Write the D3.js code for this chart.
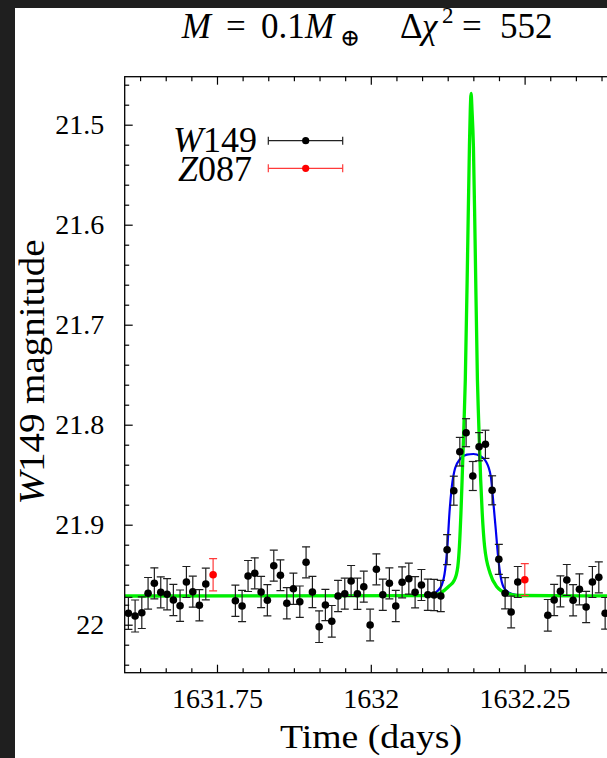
<!DOCTYPE html>
<html>
<head>
<meta charset="utf-8">
<script src="https://cdn.jsdelivr.net/npm/d3@7"></script>
<style>
  html, body { margin: 0; padding: 0; background: #fff; }
  svg { display: block; }
  text { font-family: "Liberation Serif", "DejaVu Serif", serif; fill: #000; }
</style>
</head>
<body>
<svg id="chart" width="607" height="758"></svg>
<script>
// W149 photometry: time (days), magnitude, 1-sigma error
const w149Time = [
  1631.6060, 1631.6169, 1631.6278, 1631.6380, 1631.6482, 1631.6586, 1631.6689, 1631.6791, 1631.6900, 1631.7003,
  1631.7107, 1631.7214, 1631.7318, 1631.7799, 1631.7908, 1631.8005, 1631.8114, 1631.8217, 1631.8319, 1631.8423,
  1631.8531, 1631.8635, 1631.8742, 1631.8846, 1631.8948, 1631.9051, 1631.9160, 1631.9262, 1631.9366, 1631.9468,
  1631.9577, 1631.9680, 1631.9782, 1631.9886, 1631.9989, 1632.0091, 1632.0195, 1632.0302, 1632.0406, 1632.0509,
  1632.0618, 1632.0720, 1632.0823, 1632.0927, 1632.1029, 1632.1138, 1632.1240, 1632.1349, 1632.1447, 1632.1549,
  1632.1658, 1632.1760, 1632.1863, 1632.1972, 1632.2081, 1632.2183, 1632.2281, 1632.2389, 1632.2877, 1632.2980,
  1632.3082, 1632.3186, 1632.3288, 1632.3391, 1632.3500, 1632.3602, 1632.3706, 1632.3809
];
const w149Mag = [
  21.9886, 21.9913, 21.9880, 21.9686, 21.9586, 21.9676, 21.9696, 21.9753, 21.9810, 21.9573,
  21.9670, 21.9806, 21.9593, 21.9760, 21.9813, 21.9513, 21.9486, 21.9673, 21.9756, 21.9410,
  21.9506, 21.9786, 21.9640, 21.9770, 21.9376, 21.9673, 22.0020, 21.9803, 21.9966, 21.9713,
  21.9690, 21.9563, 21.9690, 21.9620, 22.0003, 21.9446, 21.9700, 21.9586, 21.9813, 21.9576,
  21.9540, 21.9676, 21.9603, 21.9700, 21.9703, 21.9713, 21.9250, 21.8660, 21.8270, 21.8080,
  21.8513, 21.8220, 21.8196, 21.8656, 21.9346, 21.9686, 21.9873, 21.9573, 21.9906, 21.9753,
  21.9666, 21.9553, 21.9756, 21.9646, 21.9823, 21.9573, 21.9526, 21.9886
];
const w149Err = [
  0.0160, 0.0160, 0.0158, 0.0158, 0.0155, 0.0155, 0.0156, 0.0157, 0.0157, 0.0155,
  0.0155, 0.0156, 0.0158, 0.0156, 0.0157, 0.0155, 0.0155, 0.0156, 0.0156, 0.0155,
  0.0154, 0.0156, 0.0156, 0.0157, 0.0155, 0.0156, 0.0158, 0.0157, 0.0158, 0.0156,
  0.0155, 0.0155, 0.0156, 0.0155, 0.0158, 0.0155, 0.0156, 0.0155, 0.0157, 0.0155,
  0.0155, 0.0156, 0.0155, 0.0156, 0.0156, 0.0156, 0.0150, 0.0145, 0.0143, 0.0140,
  0.0145, 0.0141, 0.0141, 0.0145, 0.0150, 0.0156, 0.0158, 0.0155, 0.0158, 0.0156,
  0.0155, 0.0155, 0.0156, 0.0155, 0.0157, 0.0155, 0.0155, 0.0158
];

// Z087 photometry
const z087Time = [1631.7437, 1632.2503];
const z087Mag = [21.9500, 21.9550];
const z087Err = [0.0161, 0.0160];

// Model light curves (time, magnitude samples)
const greenModelTime = [
  1631.6000, 1632.1000, 1632.1126, 1632.1261, 1632.1359, 1632.1414, 1632.1440, 1632.1465, 1632.1484, 1632.1502,
  1632.1520, 1632.1536, 1632.1577, 1632.1603, 1632.1617, 1632.1630, 1632.1645, 1632.1668, 1632.1695, 1632.1733,
  1632.1749, 1632.1767, 1632.1786, 1632.1811, 1632.1850, 1632.1939, 1632.2048, 1632.2211, 1632.2427, 1632.4000
];
const greenModelMag = [
  21.9713, 21.9710, 21.9686, 21.9620, 21.9553, 21.9420, 21.9220, 21.8883, 21.8553, 21.8220,
  21.7886, 21.7553, 21.6153, 21.5220, 21.4853, 21.4686, 21.4853, 21.5220, 21.6153, 21.7553,
  21.7886, 21.8220, 21.8553, 21.8883, 21.9220, 21.9486, 21.9620, 21.9686, 21.9708, 21.9713
];
const blueModelTime = [
  1631.6000, 1632.0900, 1632.0992, 1632.1073, 1632.1154, 1632.1208, 1632.1245, 1632.1278, 1632.1317, 1632.1370,
  1632.1452, 1632.1560, 1632.1668, 1632.1777, 1632.1874, 1632.1951, 1632.1993, 1632.2032, 1632.2064, 1632.2102,
  1632.2155, 1632.2237, 1632.2373, 1632.2536, 1632.4000
];
const blueModelMag = [
  21.9713, 21.9712, 21.9703, 21.9670, 21.9603, 21.9453, 21.9220, 21.8886, 21.8620, 21.8436,
  21.8343, 21.8300, 21.8293, 21.8313, 21.8370, 21.8520, 21.8786, 21.9053, 21.9286, 21.9486,
  21.9620, 21.9676, 21.9703, 21.9713, 21.9713
];

// Axis ticks
const xTickValues = [1631.75, 1632, 1632.25];
const xTickLabels = ["1631.75", "1632", "1632.25"];
const yTickValues = [21.5, 21.6, 21.7, 21.8, 21.9, 22];
const yTickLabels = ["21.5", "21.6", "21.7", "21.8", "21.9", "22"];

const W = 607, H = 758;
const plot = { left: 124.7, top: 76.7, right: 616.9, bottom: 672.7 };

const x = d3.scaleLinear().domain([1631.6, 1632.4]).range([plot.left, plot.right]);
const y = d3.scaleLinear().domain([21.452, 22.048]).range([plot.top, plot.bottom]);

const svg = d3.select("#chart");
svg.append("rect").attr("width", W).attr("height", H).attr("fill", "#fff");
// dark page margins
svg.append("rect").attr("x", 0).attr("y", 0).attr("width", W).attr("height", 8).attr("fill", "#1f1f1f");
svg.append("rect").attr("x", 0).attr("y", 0).attr("width", 15).attr("height", H).attr("fill", "#1f1f1f");

svg.append("clipPath").attr("id", "plotClip").append("rect")
  .attr("x", plot.left).attr("y", plot.top)
  .attr("width", plot.right - plot.left).attr("height", plot.bottom - plot.top);

const g = svg.append("g").attr("clip-path", "url(#plotClip)");

// model curves
const line = d3.line().x(d => x(d[0])).y(d => y(d[1])).curve(d3.curveMonotoneX);
g.append("path").datum(d3.zip(blueModelTime, blueModelMag))
  .attr("d", line).attr("fill", "none").attr("stroke", "#0000f0").attr("stroke-width", 2.2);
g.append("path").datum(d3.zip(greenModelTime, greenModelMag))
  .attr("d", line).attr("fill", "none").attr("stroke", "#00f000").attr("stroke-width", 3.3);

// photometry with error bars
function drawSeries(times, mags, errs, dotColor, barColor) {
  const data = d3.zip(times, mags, errs);
  const grp = g.append("g");
  const bars = grp.selectAll("g.bar").data(data).join("g").attr("class", "bar")
    .attr("stroke", barColor).attr("stroke-width", 1.2).attr("fill", "none");
  bars.append("line")
    .attr("x1", d => x(d[0])).attr("x2", d => x(d[0]))
    .attr("y1", d => y(d[1] - d[2])).attr("y2", d => y(d[1] + d[2]));
  bars.append("line")
    .attr("x1", d => x(d[0]) - 4).attr("x2", d => x(d[0]) + 4)
    .attr("y1", d => y(d[1] - d[2])).attr("y2", d => y(d[1] - d[2]));
  bars.append("line")
    .attr("x1", d => x(d[0]) - 4).attr("x2", d => x(d[0]) + 4)
    .attr("y1", d => y(d[1] + d[2])).attr("y2", d => y(d[1] + d[2]));
  grp.selectAll("circle").data(data).join("circle")
    .attr("cx", d => x(d[0])).attr("cy", d => y(d[1])).attr("r", 3.8).attr("fill", dotColor);
}
drawSeries(w149Time, w149Mag, w149Err, "#000", "#1e1e1e");
drawSeries(z087Time, z087Mag, z087Err, "#ff0000", "#ff3a3a");

// axes: inward ticks on every side
const xMinor = d3.range(-15, 16).map(k => 1632 + k / 24)
  .filter(v => v >= 1631.6 && v <= 1632.4 && Math.abs(v * 4 - Math.round(v * 4)) > 1e-6);
const yMinor = d3.range(0, 30).map(i => 21.46 + i * 0.02)
  .filter(v => Math.abs(v * 10 - Math.round(v * 10)) > 1e-6);

function styleAxis(sel, fontSize) {
  sel.select(".domain").remove();
  sel.attr("font-family", null).attr("font-size", fontSize);
  sel.selectAll(".tick line").attr("stroke", "#000").attr("stroke-width", 1.2);
  sel.selectAll(".tick text").attr("fill", "#000");
}

const axes = svg.append("g");
styleAxis(axes.append("g").attr("transform", `translate(0,${plot.bottom})`)
  .call(d3.axisBottom(x).tickValues(xTickValues).tickFormat((d, i) => xTickLabels[i])
    .tickSize(-8).tickSizeOuter(0).tickPadding(15.5)), 28);
styleAxis(axes.append("g").attr("transform", `translate(0,${plot.bottom})`)
  .call(d3.axisBottom(x).tickValues(xMinor).tickFormat("").tickSize(-4.5).tickSizeOuter(0)), 28);
styleAxis(axes.append("g").attr("transform", `translate(0,${plot.top})`)
  .call(d3.axisTop(x).tickValues(xTickValues).tickFormat("").tickSize(-8).tickSizeOuter(0)), 28);
styleAxis(axes.append("g").attr("transform", `translate(0,${plot.top})`)
  .call(d3.axisTop(x).tickValues(xMinor).tickFormat("").tickSize(-4.5).tickSizeOuter(0)), 28);
styleAxis(axes.append("g").attr("transform", `translate(${plot.left},0)`)
  .call(d3.axisLeft(y).tickValues(yTickValues).tickFormat((d, i) => yTickLabels[i])
    .tickSize(-8).tickSizeOuter(0).tickPadding(20.5)), 28);
styleAxis(axes.append("g").attr("transform", `translate(${plot.left},0)`)
  .call(d3.axisLeft(y).tickValues(yMinor).tickFormat("").tickSize(-4.5).tickSizeOuter(0)), 28);
styleAxis(axes.append("g").attr("transform", `translate(${plot.right},0)`)
  .call(d3.axisRight(y).tickValues(yTickValues).tickFormat("").tickSize(-8).tickSizeOuter(0)), 28);

// frame
svg.append("rect")
  .attr("x", plot.left).attr("y", plot.top)
  .attr("width", plot.right - plot.left).attr("height", plot.bottom - plot.top)
  .attr("fill", "none").attr("stroke", "#000").attr("stroke-width", 1.3);

// title
const title = svg.append("g").attr("font-size", 35);
const titlePieces = [
  { t: "M", x: 181.7, it: true },
  { t: "=", x: 226 },
  { t: "0.1", x: 261 },
  { t: "M", x: 305, it: true },
  { t: "\u2295", x: 340, dy: 8, fs: 24 },
  { t: "\u0394", x: 400 },
  { t: "\u03C7", x: 422, it: true },
  { t: "2", x: 442, dy: -15, fs: 23 },
  { t: "=", x: 462 },
  { t: "552", x: 500 }
];
title.selectAll("text").data(titlePieces).join("text")
  .attr("x", d => d.x).attr("y", d => 38 + (d.dy || 0))
  .attr("font-style", d => d.it ? "italic" : "normal")
  .attr("font-size", d => d.fs || 35)
  .text(d => d.t);

// legend
const legendRows = [
  { sym: "W", num: "149", right: 257, base: 152, my: 140.7, color: "#000", bar: "#222" },
  { sym: "Z", num: "087", right: 252, base: 181, my: 168.3, color: "#ff0000", bar: "#ff3a3a" }
];
const legend = svg.append("g");
legendRows.forEach(r => {
  const t = legend.append("text").attr("x", r.right).attr("y", r.base)
    .attr("text-anchor", "end").attr("font-size", 36);
  t.append("tspan").attr("font-style", "italic").text(r.sym);
  t.append("tspan").text(r.num);
  const lg = legend.append("g").attr("stroke", r.bar).attr("stroke-width", 1.2);
  lg.append("line").attr("x1", 268.3).attr("x2", 342.7).attr("y1", r.my).attr("y2", r.my);
  lg.append("line").attr("x1", 268.3).attr("x2", 268.3).attr("y1", r.my - 4).attr("y2", r.my + 4);
  lg.append("line").attr("x1", 342.7).attr("x2", 342.7).attr("y1", r.my - 4).attr("y2", r.my + 4);
  legend.append("circle").attr("cx", 305.7).attr("cy", r.my).attr("r", 3.6).attr("fill", r.color);
});

// axis labels
svg.append("text")
  .attr("x", 371).attr("y", 748).attr("text-anchor", "middle")
  .attr("font-size", 34).attr("textLength", 182).attr("lengthAdjust", "spacingAndGlyphs")
  .text("Time (days)");

const ylab = svg.append("text")
  .attr("transform", "translate(44,372) rotate(-90)")
  .attr("text-anchor", "middle").attr("font-size", 36)
  .attr("textLength", 265).attr("lengthAdjust", "spacingAndGlyphs");
ylab.append("tspan").attr("font-style", "italic").text("W");
ylab.append("tspan").text("149 magnitude");
</script>
</body>
</html>
